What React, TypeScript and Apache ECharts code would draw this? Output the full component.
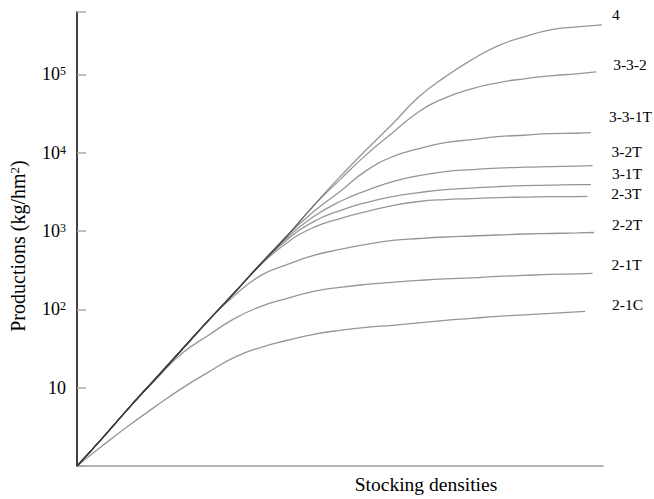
import React, { useEffect, useRef } from "react";
import * as echarts from "echarts";

// Stocking density grid (relative units) – last point of each series is its own end density
const densities = [0, 5, 10, 15, 20, 25, 30, 35, 40, 45, 50, 55, 60, 65, 70, 75, 80, 85, 90, 95];

const seriesNames = ["4", "3-3-2", "3-3-1T", "3-2T", "3-1T", "2-3T", "2-2T", "2-1T", "2-1C"];
const endDensities = [99.8, 98.7, 97.7, 98, 97.7, 97, 98.3, 98, 96.6];

// Productions (kg/hm²)
const p4 = [1, 2.34, 5.65, 13.2, 30.9, 72.4, 165, 385, 877, 2110, 4940, 10900, 23400, 51600, 92900, 153000, 231000, 301000, 369000, 403000, 428000];
const p332 = [1, 2.34, 5.65, 13.2, 30.9, 72.4, 165, 385, 877, 2110, 4530, 9440, 18000, 33300, 50200, 65300, 78000, 87700, 95700, 101500, 107700];
const p331T = [1, 2.34, 5.65, 13.2, 30.9, 72.4, 165, 385, 877, 1770, 3190, 5900, 8890, 11250, 13400, 14650, 16000, 16700, 17500, 17700, 18000];
const p32T = [1, 2.34, 5.65, 13.2, 30.9, 72.4, 165, 385, 826, 1530, 2380, 3280, 4270, 5090, 5730, 6070, 6350, 6530, 6630, 6730, 6830];
const p31T = [1, 2.34, 5.65, 13.2, 30.9, 72.4, 165, 385, 780, 1320, 1820, 2310, 2750, 3090, 3380, 3530, 3690, 3800, 3850, 3910, 3910];
const p23T = [1, 2.34, 5.65, 13.2, 30.9, 72.4, 165, 374, 714, 1110, 1440, 1770, 2110, 2380, 2520, 2590, 2670, 2710, 2750, 2750, 2760];
const p22T = [1, 2.34, 5.65, 13.2, 30.9, 72.4, 151, 271, 374, 487, 581, 673, 757, 802, 839, 864, 889, 916, 929, 944, 957];
const p21T = [1, 2.34, 5.65, 12.8, 27.5, 46.6, 76.8, 109, 138, 170, 191, 208, 221, 234, 245, 252, 263, 271, 279, 283, 288];
const p21C = [1, 1.85, 3.33, 5.81, 9.86, 15.8, 24.5, 32.8, 40.3, 48.0, 54.0, 59.0, 62.5, 67.3, 72.4, 76.8, 81.4, 85.1, 88.9, 93, 94.3];

const productions = [p4, p332, p331T, p32T, p31T, p23T, p22T, p21T, p21C];

// label offsets next to line ends
const labelOffsets = [
  [2, -10],
  [9, -7],
  [10, -16],
  [11, -14],
  [13, -11],
  [16, -3],
  [10, -8],
  [11, -9],
  [19, -7],
];

const yTickLabels: Record<string, string> = {
  "1": "",
  "10": "10",
  "100": "10{sup|2}",
  "1000": "10{sup|3}",
  "10000": "10{sup|4}",
  "100000": "10{sup|5}",
};

const SERIF = "'Liberation Serif', 'DejaVu Serif', serif";

export default function App() {
  const ref = useRef<HTMLDivElement>(null);

  useEffect(() => {
    if (!ref.current) return;
    const chart = echarts.init(ref.current, undefined, { renderer: "svg" });

    const series = seriesNames.map((name, i) => {
      const vals = productions[i];
      const data = vals.map((v, j) => [j < densities.length ? densities[j] : endDensities[i], v]);
      return {
        name,
        type: "line",
        data,
        smooth: 0.5,
        symbol: "none",
        lineStyle: { color: "#404040", width: 1.3, opacity: 0.55 },
        endLabel: {
          show: true,
          formatter: name,
          color: "#000",
          fontFamily: SERIF,
          fontSize: 15.5,
          offset: labelOffsets[i],
        },
        emphasis: { disabled: true },
      };
    });

    chart.setOption({
      animation: false,
      grid: { left: 77, right: 51, top: 12, bottom: 30 },
      xAxis: {
        type: "value",
        min: 0,
        max: 100,
        name: "Stocking densities",
        nameLocation: "middle",
        nameGap: 8,
        nameTextStyle: {
          fontFamily: SERIF,
          fontSize: 19.5,
          color: "#000",
          padding: [0, 0, 0, 172],
        },
        axisLine: { show: true, lineStyle: { color: "#9a9a9a", width: 1.5 } },
        axisTick: { show: false },
        axisLabel: { show: false },
        splitLine: { show: false },
      },
      yAxis: {
        type: "log",
        logBase: 10,
        min: 1,
        max: 625000,
        name: "Productions (kg/hm{sup|2})",
        nameLocation: "middle",
        nameGap: 49,
        nameTextStyle: {
          fontFamily: SERIF,
          fontSize: 20,
          color: "#000",
          padding: [0, 14, 0, 0],
          rich: {
            sup: { fontFamily: SERIF, fontSize: 13, verticalAlign: "top", color: "#000" },
          },
        },
        axisLine: { show: true, lineStyle: { color: "#000", width: 1.5 } },
        axisTick: { show: true, inside: true, length: 9, lineStyle: { color: "#aaa", width: 1.5 } },
        minorTick: { show: false },
        splitLine: { show: false },
        axisLabel: {
          margin: 11,
          fontFamily: SERIF,
          fontSize: 18,
          color: "#000",
          formatter: (v: number) => {
            const key = String(Math.round(v));
            return yTickLabels[key] ?? "";
          },
          rich: {
            sup: { fontFamily: SERIF, fontSize: 12, verticalAlign: "top", color: "#000" },
          },
        },
      },
      series,
    });

    return () => chart.dispose();
  }, []);

  return (
    <div
      ref={ref}
      style={{ position: "absolute", left: 0, top: 0, width: 654, height: 499 }}
    />
  );
}
